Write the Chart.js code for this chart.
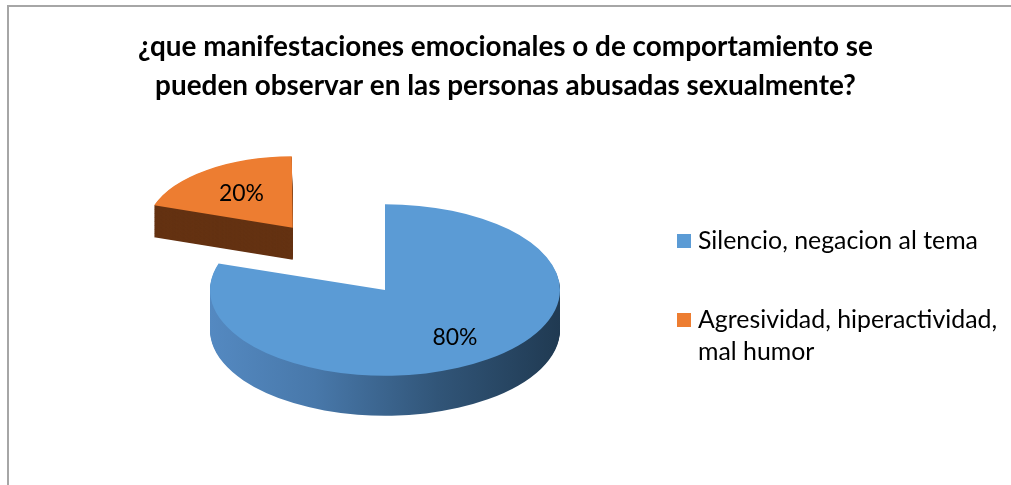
<!DOCTYPE html>
<html>
<head>
<meta charset="utf-8">
<script src="https://cdn.jsdelivr.net/npm/chart.js@4/dist/chart.umd.min.js"></script>
<style>
  html, body { margin: 0; padding: 0; background: #ffffff; }
  #wrap { position: relative; width: 1011px; height: 485px; }
</style>
</head>
<body>
<div id="wrap"><canvas id="c" width="1011" height="485"></canvas></div>
<script>
// ---------- data ----------
const titleLines = [
  '¿que manifestaciones emocionales o de comportamiento se',
  'pueden observar en las personas abusadas sexualmente?'
];
const categories = [
  'Silencio, negacion al tema',
  'Agresividad, hiperactividad, mal humor'
];
const percentages = [80, 20];

// ---------- style ----------
const topColors = ['#5B9BD5', '#ED7D31'];
const sideColorOrange = '#643212';
const FAMILY = 'Lato, "Open Sans", "Liberation Sans", sans-serif';
const CX = 385, CY = 290, K = 0.49, R = 175, DEPTH = 40;
const EXPLODE = 163;          // explode distance of the 2nd slice
const FAR_SCALE = [1, 0.8];   // apparent size (perspective) of each slice
const LABEL_R = [0.68, 0.58];

const mctx = document.createElement('canvas').getContext('2d');
function fitSize(text, weight, target, base) {
  mctx.font = `${weight} ${base}px ${FAMILY}`;
  return base * target / mctx.measureText(text).width;
}
const titleSize = fitSize(titleLines[0], 'bold', 735, 22);
const legendSize = fitSize(categories[0], 'normal', 280, 20);
const labelSize = fitSize('80%', 'normal', 45, 20);

const total = percentages.reduce((a, b) => a + b, 0);
const offsets = percentages.map((v, i) => {
  if (i === 0) return 0;
  const circ = v / total * Math.PI * 2;
  const fix = 1 - Math.sin(Math.min(Math.PI, circ));
  return EXPLODE * 4 / (1 + fix);
});

function wrap(ctx, text, maxW) {
  const words = text.split(' ');
  const lines = [];
  let cur = '';
  for (const w of words) {
    const t = cur ? cur + ' ' + w : w;
    if (ctx.measureText(t).width > maxW && cur) { lines.push(cur); cur = w; }
    else cur = t;
  }
  if (cur) lines.push(cur);
  return lines;
}

function apexOf(arc) {
  const off = (arc.options.offset || 0) / 4;
  const half = (arc.startAngle + arc.endAngle) / 2;
  const fix = 1 - Math.sin(Math.min(Math.PI, arc.circumference || 0));
  const m = off * (1 + fix);
  return { dx: Math.cos(half) * m, dy: Math.sin(half) * m };
}

function applyTransform(ctx, arc, i, shift) {
  const s = FAR_SCALE[i];
  const a = apexOf(arc);
  const apx = CX + a.dx, apy = CY + K * a.dy;
  ctx.translate(0, shift * s);
  ctx.translate(apx, apy);
  ctx.scale(s, s);
  ctx.translate(-apx, -apy);
  ctx.translate(CX, CY);
  ctx.scale(1, K);
  ctx.translate(-arc.x, -arc.y);
}

function drawArcWith(ctx, arc, fill) {
  const orig = arc.options;
  arc.options = Object.assign({}, orig, { backgroundColor: fill, borderWidth: 0 });
  arc.draw(ctx);
  arc.options = orig;
}

const pie3d = {
  id: 'pie3d',
  beforeDraw(chart) {
    const ctx = chart.ctx;
    ctx.save();
    ctx.strokeStyle = '#a6a6a6';
    ctx.lineWidth = 2;
    ctx.beginPath();
    ctx.moveTo(8, 500);
    ctx.lineTo(8, 6);
    ctx.lineTo(1020, 6);
    ctx.stroke();
    ctx.restore();
  },
  beforeDatasetsDraw(chart) {
    const ctx = chart.ctx;
    const arcs = chart.getDatasetMeta(0).data;
    const order = [1, 0];
    for (const i of order) {
      const arc = arcs[i];
      let sideFill;
      if (i === 0) {
        const g = ctx.createLinearGradient(arc.x - R, 0, arc.x + R, 0);
        g.addColorStop(0, '#5489c1');
        g.addColorStop(0.3, '#4878aa');
        g.addColorStop(0.65, '#315578');
        g.addColorStop(1, '#203a52');
        sideFill = g;
      } else {
        sideFill = sideColorOrange;
      }
      for (let d = DEPTH; d >= 1; d--) {
        ctx.save();
        applyTransform(ctx, arc, i, d);
        drawArcWith(ctx, arc, sideFill);
        ctx.restore();
      }
      ctx.save();
      applyTransform(ctx, arc, i, 0);
      drawArcWith(ctx, arc, topColors[i]);
      ctx.restore();
    }
    // data labels
    ctx.save();
    ctx.font = `normal ${labelSize}px ${FAMILY}`;
    ctx.fillStyle = '#000000';
    ctx.textAlign = 'center';
    ctx.textBaseline = 'middle';
    arcs.forEach((arc, i) => {
      const a = apexOf(arc);
      const mid = (arc.startAngle + arc.endAngle) / 2;
      const r = arc.outerRadius * LABEL_R[i];
      const apx = CX + a.dx, apy = CY + K * a.dy;
      let x = apx + Math.cos(mid) * r;
      let y = apy + K * Math.sin(mid) * r;
      const s = FAR_SCALE[i];
      x = apx + s * (x - apx);
      y = apy + s * (y - apy);
      const pct = Math.round(percentages[i] / total * 100) + '%';
      ctx.fillText(pct, x, y);
    });
    ctx.restore();
    return false;
  },
  afterDraw(chart) {
    const ctx = chart.ctx;
    ctx.save();
    ctx.font = `normal ${legendSize}px ${FAMILY}`;
    ctx.fillStyle = '#000000';
    ctx.textAlign = 'left';
    ctx.textBaseline = 'alphabetic';
    const baseStarts = [249, 328];
    const lineGap = 32;
    categories.forEach((cat, i) => {
      const b = baseStarts[i];
      ctx.fillStyle = topColors[i];
      ctx.fillRect(677, b - 15, 14, 14);
      ctx.fillStyle = '#000000';
      const lines = wrap(ctx, cat, 320);
      lines.forEach((ln, j) => ctx.fillText(ln, 698, b + j * lineGap));
    });
    ctx.restore();
  }
};

new Chart(document.getElementById('c'), {
  type: 'pie',
  data: {
    labels: categories,
    datasets: [{
      data: percentages,
      backgroundColor: topColors,
      borderWidth: 0,
      offset: offsets,
      hoverOffset: 0
    }]
  },
  options: {
    responsive: false,
    animation: false,
    devicePixelRatio: 1,
    events: [],
    radius: R,
    cutout: '0%',
    rotation: 0,
    plugins: {
      legend: { display: false },
      tooltip: { enabled: false },
      title: {
        display: true,
        text: titleLines,
        color: '#000000',
        font: { family: FAMILY, size: titleSize, weight: 'bold', lineHeight: 39 / titleSize },
        padding: { top: 27, bottom: 10 }
      }
    }
  },
  plugins: [pie3d]
});
</script>
</body>
</html>
